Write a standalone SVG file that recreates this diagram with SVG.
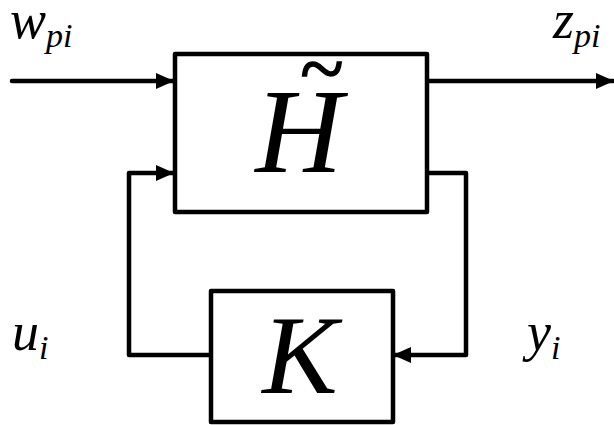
<svg xmlns="http://www.w3.org/2000/svg" width="614" height="425" viewBox="0 0 614 425">
<style>
.box{fill:#fff;stroke:#000;stroke-width:4.5;stroke-linejoin:round}
.wire{fill:none;stroke:#000;stroke-width:4.5;stroke-linejoin:round;stroke-linecap:round}
.lbl{font-style:italic;fill:#000}
</style>
<defs>
<marker id="arr" markerUnits="userSpaceOnUse" markerWidth="18" markerHeight="16" refX="17" refY="8" orient="auto" viewBox="0 0 18 16">
<path d="M0,0 L18,8 L0,16 Z" fill="#000"/>
</marker>
</defs>
<g id="connectors">
<path class="wire" d="M12,81 L173,81" marker-end="url(#arr)"/>
<path class="wire" d="M428,81 L613,81" marker-end="url(#arr)"/>
<path class="wire" d="M428,173 L466,173 L466,355 L394,355" marker-end="url(#arr)"/>
<path class="wire" d="M211,355 L129,355 L129,173 L173,173" marker-end="url(#arr)"/>
</g>
<g id="H">
<rect class="box" x="175" y="54" width="252" height="158"/>
<text class="lbl" font-family="'Times New Roman', serif" x="299" y="172" font-size="121" text-anchor="middle">H</text>
<text class="lbl" font-family="'Times New Roman', serif" x="321" y="96" font-size="80" text-anchor="middle" stroke="#000" stroke-width="1.5">~</text>
</g>
<g id="K">
<rect class="box" x="211" y="291" width="182" height="131"/>
<text class="lbl" font-family="'Times New Roman', serif" x="300" y="393" font-size="113" text-anchor="middle">K</text>
</g>
<g id="labels">
<text class="lbl" font-family="'Times New Roman', serif" x="10" y="38" font-size="54">w<tspan font-size="34" dy="9">pi</tspan></text>
<text class="lbl" font-family="'Times New Roman', serif" x="553" y="38" font-size="54">z<tspan font-size="34" dy="9">pi</tspan></text>
<text class="lbl" font-family="'Times New Roman', serif" x="12" y="350" font-size="54">u<tspan font-size="34" dy="9">i</tspan></text>
<text class="lbl" font-family="'Times New Roman', serif" x="527" y="350" font-size="54">y<tspan font-size="34" dy="9">i</tspan></text>
</g>
</svg>
